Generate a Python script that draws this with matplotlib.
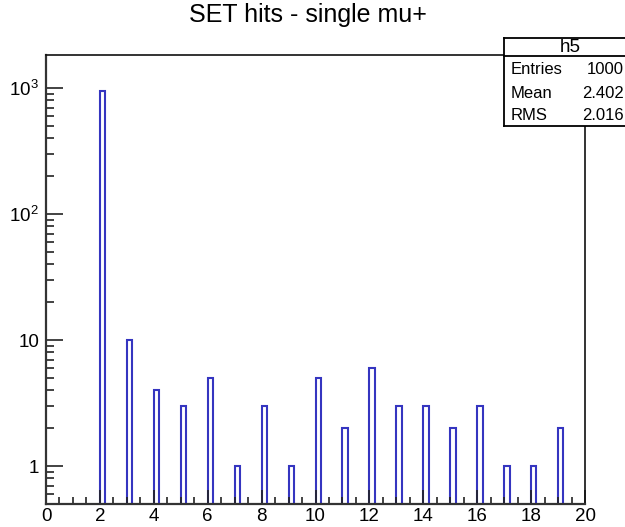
import matplotlib
matplotlib.use("Agg")
import matplotlib.pyplot as plt
from matplotlib.ticker import FixedLocator, LogLocator, MultipleLocator, FuncFormatter, NullFormatter

plt.rcParams['font.family'] = ['Liberation Sans', 'DejaVu Sans']
plt.rcParams['mathtext.fontset'] = 'custom'
plt.rcParams['mathtext.rm'] = 'Liberation Sans'
plt.rcParams['mathtext.it'] = 'Liberation Sans:italic'

# number of SET hits per event, one bin per integer (bin width 0.2)
hits = [2, 3, 4, 5, 6, 7, 8, 9, 10, 11, 12, 13, 14, 15, 16, 17, 18, 19]
counts = [945, 10, 4, 3, 5, 1, 3, 1, 5, 2, 6, 3, 3, 2, 3, 1, 1, 2]
hist_name = "h5"
mean_val = 2.402
rms_val = 2.016
y_ticks = [1, 10, 100, 1000]
y_labels = ["1", "10", r"$10^{2}$", r"$10^{3}$"]

W, H = 625, 527
fig = plt.figure(figsize=(W / 100, H / 100), dpi=100)
fig.patch.set_facecolor("white")

def px(x, y):
    return x / W, 1 - y / H

ax = fig.add_axes([46 / W, 1 - 504 / H, (585 - 46) / W, (504 - 55) / H])
ax.bar(hits, counts, width=0.2, align="edge", fill=False,
       edgecolor="#3535c0", linewidth=1.5)

ax.set_yscale("log")
ax.set_xlim(0, 20)
ax.set_ylim(0.5, 1830)

ax.xaxis.set_major_locator(MultipleLocator(2))
ax.xaxis.set_minor_locator(MultipleLocator(0.5))
ax.yaxis.set_major_locator(FixedLocator(y_ticks))
ax.yaxis.set_major_formatter(FuncFormatter(lambda v, p: y_labels[y_ticks.index(round(v))] if round(v) in y_ticks else ""))
ax.yaxis.set_minor_locator(LogLocator(base=10, subs=range(2, 10)))
ax.yaxis.set_minor_formatter(NullFormatter())

ax.tick_params(which="both", direction="in", color="#222222", width=1.2,
               labelsize=13.5, top=False, right=False)
ax.tick_params(axis="x", which="major", length=10, pad=3)
ax.tick_params(axis="x", which="minor", length=5)
ax.tick_params(axis="y", which="major", length=12, pad=5)
ax.tick_params(axis="y", which="minor", length=6)

for side in ["left", "bottom"]:
    ax.spines[side].set_linewidth(1.6)
    ax.spines[side].set_color("#333333")
for side in ["top", "right"]:
    ax.spines[side].set_linewidth(1.2)
    ax.spines[side].set_color("#111111")

# title
fig.text(*px(308, 15), "SET hits - single mu+", fontsize=18,
         ha="center", va="center")

# statistics box in the top right corner
box_l, box_r, box_t, box_sep, box_b = 504, 640, 38, 56, 126
fig.patches.append(plt.Rectangle(px(box_l, box_b), (box_r - box_l) / W,
                                 (box_b - box_t) / H, transform=fig.transFigure,
                                 facecolor="white", edgecolor="none", zorder=2))
for (x0, y0), (x1, y1) in [((box_l, box_t), (box_r, box_t)),
                           ((box_l, box_t), (box_l, box_b)),
                           ((box_l, box_b), (box_r, box_b)),
                           ((box_l, box_sep), (box_r, box_sep))]:
    a, b = px(x0, y0)
    c, d = px(x1, y1)
    fig.add_artist(plt.Line2D([a, c], [b, d], color="black", linewidth=1.3, zorder=3))

fig.text(*px(570, 47), hist_name, fontsize=13.5, ha="center", va="center", zorder=3)
rows = [("Entries", "%d" % sum(counts)), ("Mean", "%.3f" % mean_val),
        ("RMS", "%.3f" % rms_val)]
for i, (name, val) in enumerate(rows):
    yy = 70 + 23 * i
    fig.text(*px(511, yy), name, fontsize=12, ha="left", va="center", zorder=3)
    fig.text(*px(624, yy), val, fontsize=12, ha="right", va="center", zorder=3)

fig.savefig("out.png", dpi=100)
